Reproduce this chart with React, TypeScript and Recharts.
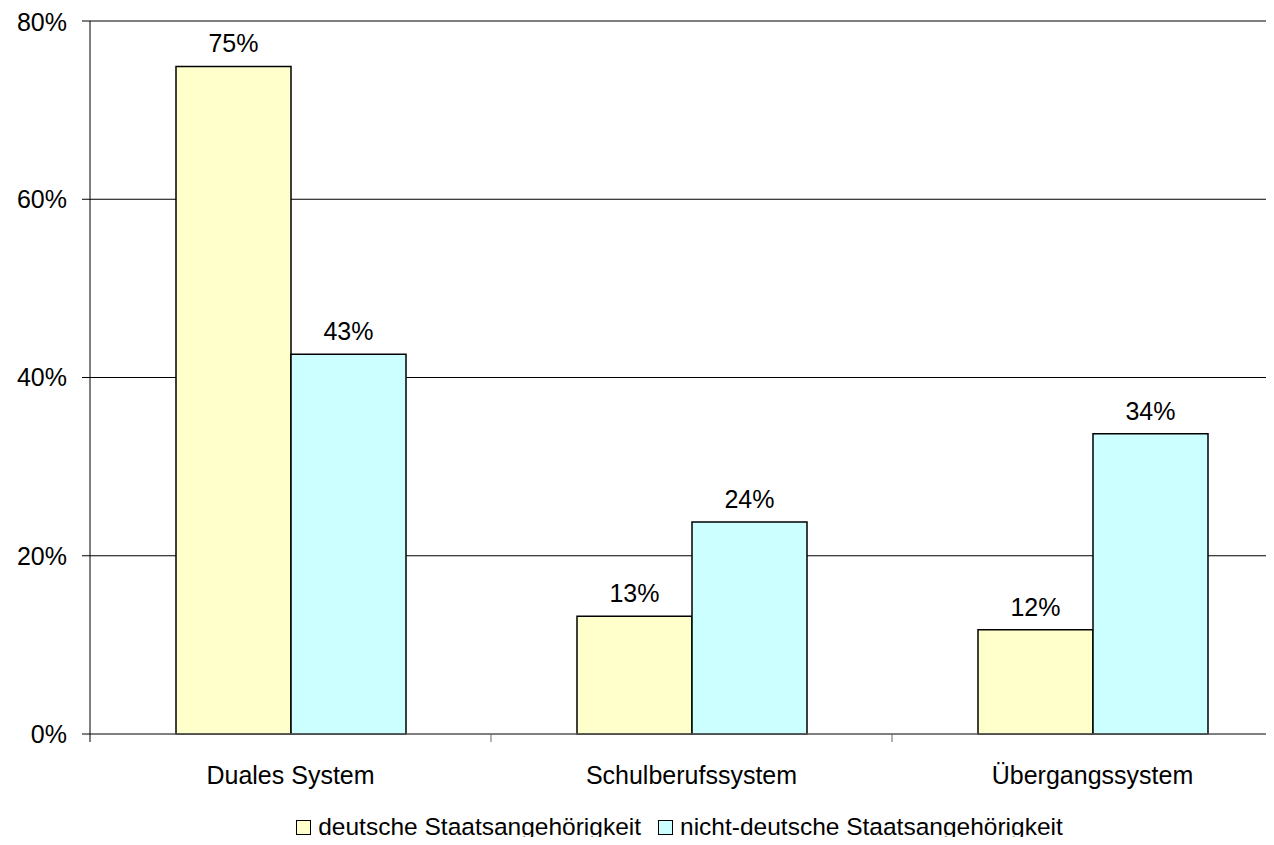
import React from 'react';
import { BarChart, Bar, CartesianGrid, XAxis, YAxis, Legend, LabelList } from 'recharts';

const categories = ['Duales System', 'Schulberufssystem', 'Übergangssystem'];
const deutsche = [74.9, 13.2, 11.7];
const nichtDeutsche = [42.6, 23.8, 33.7];
const yTicks = [0, 20, 40, 60, 80];

const seriesNames = ['deutsche Staatsangehörigkeit', 'nicht-deutsche Staatsangehörigkeit'];
const seriesColors = ['#FFFFCC', '#CCFFFF'];

const data = categories.map((name, i) => ({
    name,
    deutsche: deutsche[i],
    nichtDeutsche: nichtDeutsche[i],
}));

const FONT = '"Liberation Sans", Arial, sans-serif';
const FS = 25;
const X_TICK_SIZE = 8;
const X_TICK_MARGIN = 24;

// tick marks sit between the categories, not under them
const CategoryTick = (props: any) => {
    const { x, y, payload, index, visibleTicksCount } = props;
    const band = props.width / (visibleTicksCount || categories.length);
    const axisY = y - X_TICK_SIZE - X_TICK_MARGIN;
    return (
        <g>
            {index === 0 && (
                <line x1={x - band / 2} x2={x - band / 2} y1={axisY} y2={axisY + X_TICK_SIZE} stroke="#000" />
            )}
            <line x1={x + band / 2} x2={x + band / 2} y1={axisY} y2={axisY + X_TICK_SIZE} stroke="#666" />
            <text x={x} y={y} dy="0.71em" textAnchor="middle" fill="#000" fontSize={FS}>
                {payload.value}
            </text>
        </g>
    );
};

const renderLegend = () => (
    <div style={{ display: 'flex', justifyContent: 'center', alignItems: 'center', height: 30, fontFamily: FONT, fontSize: 24.5, color: '#000' }}>
        {seriesNames.map((n, i) => (
            <span key={n} style={{ display: 'flex', alignItems: 'center', marginRight: i === 0 ? 17 : 0 }}>
                <span style={{ display: 'inline-block', width: 13, height: 13, background: seriesColors[i], border: '1px solid #000', marginRight: 7 }} />
                {n}
            </span>
        ))}
    </div>
);

export default function App() {
    return (
        <div style={{ width: 1266, height: 837, overflow: 'hidden', marginBottom: -8 }}>
            <BarChart
                width={1343}
                height={837}
                data={data}
                margin={{ top: 13, right: 58, left: 0, bottom: 0 }}
                barGap={0}
                style={{ fontFamily: FONT }}
            >
                <CartesianGrid vertical={false} stroke="#000" />
                <XAxis
                    dataKey="name"
                    height={81}
                    tickSize={X_TICK_SIZE}
                    tickMargin={X_TICK_MARGIN}
                    axisLine={{ stroke: '#808080' }}
                    tickLine={{ stroke: 'none' }}
                    tick={<CategoryTick />}
                />
                <YAxis
                    width={82}
                    domain={[0, 80]}
                    ticks={yTicks}
                    tickFormatter={(v: number) => `${v}%`}
                    tickSize={8}
                    tickMargin={15}
                    axisLine={{ stroke: '#000' }}
                    tickLine={{ stroke: '#000' }}
                    tick={{ fill: '#000', fontSize: FS }}
                />
                <Legend
                    verticalAlign="bottom"
                    content={renderLegend}
                    wrapperStyle={{ left: 0, width: 1343, height: 30, top: 804 }}
                />
                <Bar dataKey="deutsche" name={seriesNames[0]} fill={seriesColors[0]} stroke="#000" strokeWidth={1.5} barSize={115} isAnimationActive={false}>
                    <LabelList dataKey="deutsche" position="top" offset={14} formatter={(v: number) => `${Math.round(v)}%`} fill="#000" fontSize={FS} />
                </Bar>
                <Bar dataKey="nichtDeutsche" name={seriesNames[1]} fill={seriesColors[1]} stroke="#000" strokeWidth={1.5} barSize={115} isAnimationActive={false}>
                    <LabelList dataKey="nichtDeutsche" position="top" offset={14} formatter={(v: number) => `${Math.round(v)}%`} fill="#000" fontSize={FS} />
                </Bar>
            </BarChart>
        </div>
    );
}
